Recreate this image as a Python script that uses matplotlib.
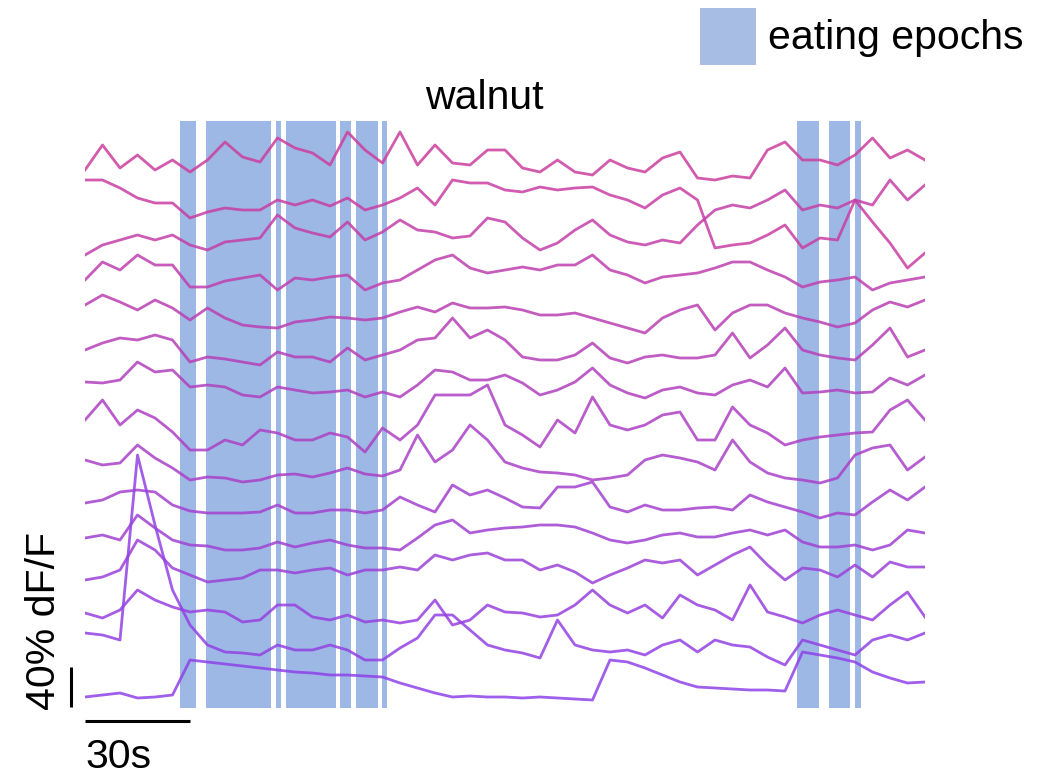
import numpy as np
import matplotlib.pyplot as plt
from matplotlib.colors import LinearSegmentedColormap
from matplotlib.patches import Rectangle

plt.rcParams['font.family'] = ['Liberation Sans', 'DejaVu Sans']

# time base of the traces (s)
time_s = np.arange(0, 245, 5)

# dF/F (%) of each cell, top to bottom
cell_01 = [10, 35, 12, 25, 10, 20, 8, 20, 38, 23, 18, 42, 32, 27, 15, 48, 30, 17, 48, 15,
           35, 17, 15, 30, 30, 12, 8, 20, 8, 5, 20, 12, 8, 22, 28, 2, 0, 4, 2, 30,
           38, 20, 20, 15, 25, 42, 22, 30, 20]
cell_02 = [70, 70, 62, 52, 47, 47, 32, 38, 42, 40, 40, 50, 45, 50, 44, 52, 40, 45, 52, 62,
           45, 70, 67, 67, 60, 58, 63, 60, 62, 63, 55, 50, 42, 55, 62, 50, 2, 5, 7, 15,
           25, 2, 12, 10, 50, 28, 7, -18, -3]
cell_03 = [0, 10, 15, 20, 15, 20, 10, 5, 13, 15, 17, 40, 27, 22, 18, 33, 15, 23, 35, 25,
           23, 17, 19, 37, 33, 17, 5, 12, 25, 35, 20, 13, 10, 15, 12, 30, 45, 50, 47, 55,
           65, 45, 50, 47, 55, 50, 75, 55, 70]
cell_04 = [15, 33, 25, 40, 30, 30, 8, 8, 14, 17, 20, 5, 17, 15, 18, 20, 5, 12, 15, 25,
           35, 40, 27, 22, 25, 28, 25, 30, 30, 40, 25, 20, 12, 18, 20, 22, 27, 33, 33, 25,
           18, 8, 13, 15, 18, 5, 12, 15, 18]
cell_05 = [30, 40, 33, 25, 35, 27, 15, 27, 17, 10, 8, 7, 13, 15, 18, 17, 15, 17, 23, 28,
           23, 32, 27, 27, 28, 25, 20, 20, 22, 17, 12, 7, 2, 17, 25, 30, 5, 22, 30, 30,
           22, 17, 13, 8, 12, 25, 33, 28, 35]
cell_06 = [15, 22, 27, 25, 30, 25, 3, 8, 6, 3, 0, 13, 8, 8, 3, 17, 5, 10, 15, 25,
           27, 47, 27, 35, 25, 8, 5, 5, 10, 22, 7, 2, 8, 10, 7, 7, 10, 32, 7, 20,
           37, 15, 10, 7, 5, 20, 37, 8, 15]
cell_07 = [18, 17, 20, 38, 28, 30, 13, 15, 13, 5, 3, 13, 10, 7, 8, 10, 3, 8, 3, 15,
           30, 28, 20, 20, 25, 17, 5, 10, 18, 32, 15, 7, 2, 10, 13, 7, 5, 15, 20, 13,
           32, 7, 8, 10, 7, 8, 22, 15, 25]
cell_08 = [35, 55, 30, 45, 37, 23, 5, 5, 15, 10, 25, 22, 15, 15, 22, 18, 3, 27, 15, 30,
           60, 60, 60, 70, 30, 20, 8, 35, 22, 58, 30, 25, 30, 40, 43, 15, 15, 48, 30, 22,
           10, 15, 18, 20, 22, 23, 45, 55, 35]
cell_09 = [25, 20, 22, 40, 27, 17, 5, 8, 7, 3, 5, 10, 11, 8, 12, 17, 11, 9, 15, 50,
           23, 35, 60, 45, 23, 17, 13, 12, 10, 5, 7, 10, 25, 30, 27, 23, 15, 45, 23, 12,
           7, 5, 2, 7, 30, 37, 40, 15, 28]
cell_10 = [17, 20, 28, 30, 28, 15, 9, 7, 7, 7, 8, 15, 7, 7, 10, 10, 7, 10, 23, 15,
           8, 35, 25, 30, 22, 13, 12, 33, 33, 38, 13, 8, 15, 10, 10, 12, 13, 10, 25, 18,
           13, 8, 2, 7, 5, 18, 30, 20, 33]
cell_11 = [17, 20, 15, 40, 27, 15, 10, 9, 5, 5, 7, 13, 8, 12, 15, 10, 7, 7, 5, 17,
           30, 35, 22, 25, 27, 28, 30, 30, 28, 22, 15, 12, 15, 20, 22, 18, 18, 22, 25, 20,
           25, 13, 8, 8, 10, 5, 10, 25, 22]
cell_12 = [5, 8, 15, 45, 35, 17, 10, 3, 5, 7, 15, 15, 12, 15, 17, 10, 15, 15, 18, 15,
           30, 25, 30, 32, 25, 25, 15, 20, 13, 2, 10, 17, 25, 22, 25, 10, 20, 30, 38, 20,
           5, 17, 15, 8, 20, 8, 23, 18, 18]
cell_13 = [12, 7, 15, 35, 25, 18, 13, 15, 13, 3, 5, 20, 20, 8, 5, 10, 3, 5, 2, 5,
           25, 0, 5, 20, 13, 12, 8, 10, 20, 35, 20, 12, 20, 7, 30, 20, 15, 5, 40, 13,
           8, 2, 10, 15, 10, 5, 20, 33, 8]
cell_14 = [32, 30, 25, 210, 140, 75, 40, 20, 13, 12, 10, 20, 15, 15, 20, 15, 5, 5, 17, 27,
           50, 50, 35, 20, 15, 12, 7, 45, 20, 15, 13, 15, 10, 20, 25, 13, 25, 20, 18, 8,
           0, 25, 20, 15, 10, 25, 30, 25, 32]
cell_15 = [3, 5, 7, 2, 3, 5, 40, 38, 36, 34, 32, 30, 28, 27, 25, 25, 24, 23, 17, 12,
           7, 3, 4, 3, 3, 2, 3, 2, 1, 0, 40, 38, 32, 25, 18, 13, 12, 11, 10, 10,
           9, 48, 45, 42, 38, 28, 22, 17, 18]

cells = [cell_01, cell_02, cell_03, cell_04, cell_05, cell_06, cell_07, cell_08,
         cell_09, cell_10, cell_11, cell_12, cell_13, cell_14, cell_15]
# vertical stacking of the cells (%)
cell_offsets = [530, 460, 455, 415, 375, 345, 310, 255, 225, 190, 155, 125, 85, 45, 10]

# eating epochs (s)
eat_start = [27.1, 34.7, 54.6, 57.4, 72.9, 77.4, 84.9, 203.4, 212.6, 220.0]
eat_end = [31.7, 53.1, 56.0, 71.6, 76.0, 83.7, 86.3, 209.7, 218.6, 221.7]

epoch_color = '#9db8e5'
cmap = LinearSegmentedColormap.from_list('cells', ['#cc3e9e', '#8e42e8'])

fig = plt.figure(figsize=(10.46, 7.74), dpi=100)
ax = fig.add_axes([85 / 1046, 64 / 774, 840 / 1046, 590 / 774])
ax.set_xlim(0, 240)
ax.set_ylim(0, 590)
ax.axis('off')

for s, e in zip(eat_start, eat_end):
    ax.axvspan(s, e, ymin=2 / 590, ymax=589 / 590, color=epoch_color, lw=0, zorder=0)

n = len(cells)
for i, (trace, off) in enumerate(zip(cells, cell_offsets)):
    ax.plot(time_s, np.array(trace) + off, color=cmap(i / (n - 1)), lw=2.0,
            alpha=0.85, zorder=2, solid_joinstyle='round')

# scale bars: 30 s and 40 % dF/F
ax.plot([0, 30], [-11, -11], color='black', lw=2.2, clip_on=False,
        solid_capstyle='butt')
ax.plot([-4, -4], [3, 43], color='black', lw=2.2, clip_on=False,
        solid_capstyle='butt')

fs = 29.5
fig.text(85 / 1046, 1 - 768 / 774, '30s', fontsize=fs, ha='left', va='baseline')
fig.text(44 / 1046, 1 - 621 / 774, '40% dF/F', fontsize=fs, rotation=90,
         ha='center', va='center')
fig.text(484 / 1046, 1 - 98 / 774, 'walnut', fontsize=fs, ha='center', va='center')

# legend
fig.patches.append(Rectangle((700 / 1046, 1 - 65 / 774), 56 / 1046, 57 / 774,
                             transform=fig.transFigure, color='#a7bde3', lw=0))
fig.text(768 / 1046, 1 - 38 / 774, 'eating epochs', fontsize=fs, ha='left', va='center')

plt.savefig('out.png', dpi=100)
